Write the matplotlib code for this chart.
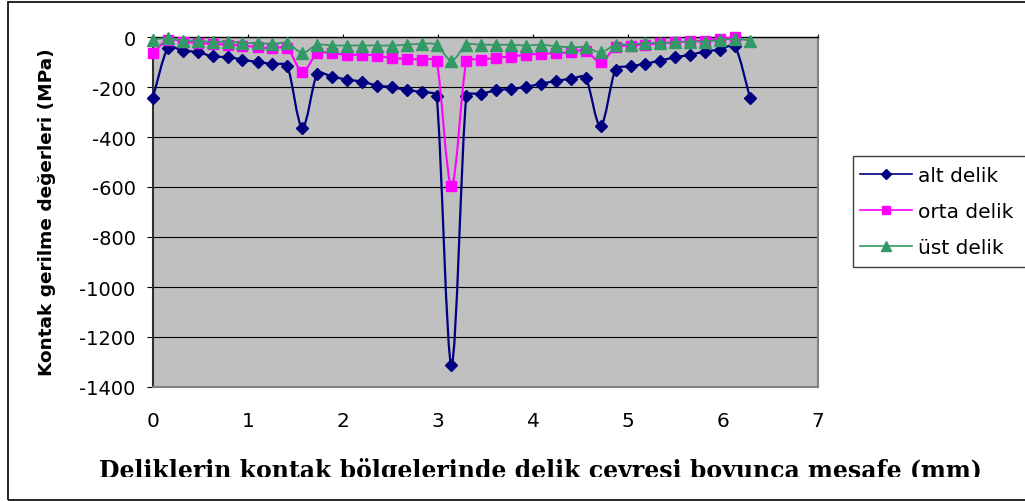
import numpy as np
import matplotlib
matplotlib.use("Agg")
import matplotlib.pyplot as plt
from matplotlib.path import Path
from matplotlib.patches import PathPatch, Rectangle
from matplotlib.lines import Line2D
from matplotlib.transforms import Bbox, TransformedBbox

plt.rcParams["axes.unicode_minus"] = False
plt.rcParams["font.family"] = ["DejaVu Sans"]

# Distance along the hole circumference (mm)
mesafe = [0.000, 0.157, 0.314, 0.471, 0.628, 0.785, 0.942, 1.100, 1.257, 1.414,
          1.571, 1.728, 1.885, 2.042, 2.199, 2.356, 2.513, 2.670, 2.827, 2.985,
          3.142, 3.299, 3.456, 3.613, 3.770, 3.927, 4.084, 4.241, 4.398, 4.555,
          4.712, 4.869, 5.027, 5.184, 5.341, 5.498, 5.655, 5.812, 5.969, 6.126,
          6.283]

# Contact stress values (MPa)
alt_delik = [-242, -43, -54, -61, -77, -81, -90, -101, -107, -117,
             -362, -147, -158, -171, -178, -194, -200, -213, -220, -236,
             -1310, -236, -227, -213, -207, -200, -187, -176, -167, -163,
             -356, -130, -117, -107, -94, -81, -71, -58, -50, -37,
             -242]
orta_delik = [-65, -10, -18, -24, -27, -31, -34, -41, -45, -45,
              -138, -65, -65, -71, -71, -74, -85, -87, -91, -97,
              -595, -97, -91, -83, -78, -71, -67, -65, -61, -54,
              -101, -41, -34, -30, -25, -21, -17, -14, -8, -1]
ust_delik = [-10, -5, -14, -14, -21, -18, -24, -24, -27, -24,
             -63, -31, -34, -34, -34, -34, -34, -31, -27, -31,
             -94, -31, -31, -31, -31, -34, -31, -37, -41, -41,
             -61, -31, -31, -24, -24, -21, -18, -18, -12, -8,
             -14]

series_labels = ["alt delik", "orta delik", "üst delik"]
y_ticks = [0, -200, -400, -600, -800, -1000, -1200, -1400]
x_ticks = [0, 1, 2, 3, 4, 5, 6, 7]

W, H = 1025, 502
fig = plt.figure(figsize=(W / 100, H / 100), dpi=100)
fig.patch.set_facecolor("white")


def fx(px):
    return px / W


def fy(py):
    return 1 - py / H


ax = fig.add_axes([fx(153), fy(388), fx(818) - fx(153), fy(38) - fy(388)])
ax.set_facecolor("#C0C0C0")
ax.set_xlim(0, 7)
ax.set_ylim(-1400, 0)


def smooth_path(xs, ys, sx, sy, tension=1 / 6, arm_cap=0.3):
    """Smoothed line through the points as cubic Beziers.

    Tangents follow the Catmull-Rom rule; each control arm is limited to a
    share of the length of its own segment (measured on screen) so that a
    long neighbouring jump does not make short segments overshoot."""
    scale = np.array([sx, sy])
    pts = np.column_stack([xs, ys]).astype(float) * scale
    n = len(pts)
    tang = np.zeros_like(pts)
    for i in range(n):
        a = pts[max(i - 1, 0)]
        b = pts[min(i + 1, n - 1)]
        tang[i] = (b - a) * tension

    def capped(t, seg_len):
        L = np.linalg.norm(t)
        lim = seg_len * arm_cap
        if L > lim and L > 0:
            return t * (lim / L)
        return t

    verts = [pts[0]]
    codes = [Path.MOVETO]
    for i in range(n - 1):
        p1, p2 = pts[i], pts[i + 1]
        seg = np.linalg.norm(p2 - p1)
        c1 = p1 + capped(tang[i], seg)
        c2 = p2 - capped(tang[i + 1], seg)
        verts += [c1, c2, p2]
        codes += [Path.CURVE4] * 3
    verts = np.array(verts) / scale
    return Path(verts, codes)


px_per_x = (818 - 153) / 7.0
px_per_y = (388 - 38) / 1400.0

styles = [
    dict(color="#000080", marker="D", ms=6.4, lw=1.6),
    dict(color="#FF00FF", marker="s", ms=7.4, lw=1.5),
    dict(color="#339966", marker="^", ms=8.6, lw=1.3),
]
data = [alt_delik, orta_delik, ust_delik]

handles = []
for i, (vals, st) in enumerate(zip(data, styles)):
    xs = mesafe[:len(vals)]
    patch = PathPatch(smooth_path(xs, vals, px_per_x, px_per_y),
                      facecolor="none", edgecolor=st["color"],
                      lw=st["lw"], zorder=3 + i * 2, clip_on=False)
    ax.add_patch(patch)
    ax.plot(xs, vals, linestyle="none", marker=st["marker"], ms=st["ms"],
            color=st["color"], markeredgecolor=st["color"], zorder=4 + i * 2,
            clip_on=False)
    handles.append(Line2D([], [], color=st["color"], lw=1.2,
                          marker=st["marker"], ms=st["ms"] * 0.85,
                          markeredgecolor=st["color"]))

# Grid and axes
ax.set_yticks(y_ticks)
ax.set_yticklabels([str(v) for v in y_ticks])
ax.set_xticks(x_ticks)
ax.set_xticklabels([str(v) for v in x_ticks])
ax.yaxis.grid(True, color="black", lw=0.8)
ax.set_axisbelow(True)
ax.tick_params(axis="y", direction="out", length=4.5, width=0.8, color="black",
               pad=8, labelsize=14)
ax.tick_params(axis="x", bottom=False, top=True, labelbottom=True, labeltop=False,
               direction="out", length=2.5, width=0.8, color="black",
               pad=14.5, labelsize=14.5)
ax.spines["top"].set_color("black")
ax.spines["top"].set_linewidth(1.0)
ax.spines["left"].set_color("#303030")
ax.spines["left"].set_linewidth(1.5)
ax.spines["right"].set_color("#808080")
ax.spines["right"].set_linewidth(1.5)
ax.spines["bottom"].set_color("#808080")
ax.spines["bottom"].set_linewidth(1.5)

# Axis titles
fig.text(fx(47), fy(212), "Kontak gerilme değerleri (MPa)", rotation=90,
         ha="center", va="center", fontsize=13.3, fontweight="bold")
xt = fig.text(fx(540), fy(478), "Deliklerin kontak bölgelerinde delik çevresi boyunca mesafe (mm)",
              ha="center", va="baseline", fontsize=17, fontweight="bold",
              family="DejaVu Serif")
xt.set_clip_box(TransformedBbox(Bbox([[0, fy(477.5)], [1, 1]]), fig.transFigure))
xt.set_clip_on(True)

# Legend box
fig.patches.append(Rectangle((fx(853), fy(268)), fx(200), fy(157) - fy(268),
                             transform=fig.transFigure, facecolor="white",
                             edgecolor="#404040", lw=1.0, zorder=1))
fig.legend(handles, series_labels, loc="upper left",
           bbox_to_anchor=(fx(856), fy(163)), frameon=False, fontsize=14.5,
           handlelength=2.6, handletextpad=0.3, labelspacing=0.85,
           borderpad=0.2, borderaxespad=0)

# Chart frame
fig.patches.append(Rectangle((fx(8), fy(501)), fx(1100), fy(3) - fy(501),
                             transform=fig.transFigure, facecolor="none",
                             edgecolor="black", lw=1.2, zorder=0))

fig.savefig("out.png", dpi=100)
